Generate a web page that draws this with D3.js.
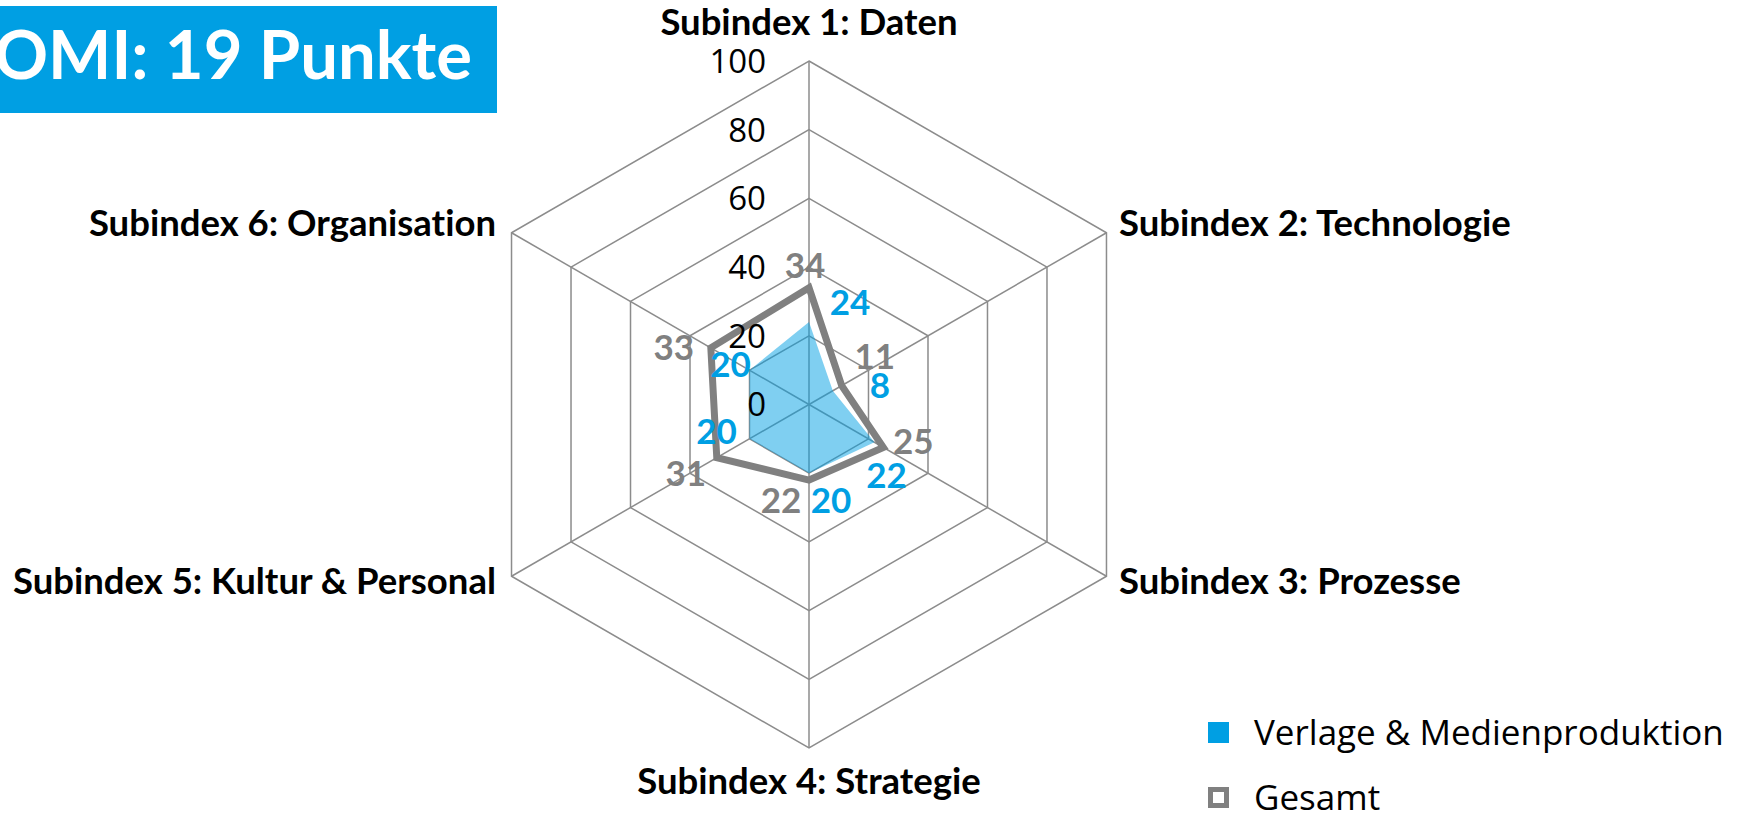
<!DOCTYPE html>
<html>
<head>
<meta charset="utf-8">
<script src="https://cdn.jsdelivr.net/npm/d3@7"></script>
<style>
    html, body { margin: 0; padding: 0; background: #fff; }
    svg { display: block; font-family: Lato, "Open Sans", sans-serif; font-variant-ligatures: none; }
</style>
</head>
<body>
<svg id="chart" width="1741" height="815"></svg>
<script>
var categories = [
    'Subindex 1: Daten',
    'Subindex 2: Technologie',
    'Subindex 3: Prozesse',
    'Subindex 4: Strategie',
    'Subindex 5: Kultur & Personal',
    'Subindex 6: Organisation'
];
var verlage = [24, 8, 22, 20, 20, 20];
var gesamt = [34, 11, 25, 22, 31, 33];
var ticks = [0, 20, 40, 60, 80, 100];
var seriesNames = ['Verlage & Medienproduktion', 'Gesamt'];
var title = 'KOMI: 19 Punkte';

// label nudges (px) relative to each vertex
var gesamtLabelOffset = [[-4, -22], [33, -29], [30, -6], [-28, 20], [-31, 16], [-37, 0]];
var verlageLabelOffset = [[41, -20], [47, -5], [12, 33], [22, 27], [-33, -7], [-19, -6]];

var blue = '#009fe3';
var grey = '#808080';

var svg = d3.select('#chart');
var cx = 809, cy = 404.5, radius = 343.5;

var r = d3.scaleLinear().domain([0, 100]).range([0, radius]);
var angle = d3.scalePoint().domain(d3.range(categories.length)).range([0, 2 * Math.PI * 5 / 6]);

function point(i, v) {
    var a = angle(i) - Math.PI / 2;
    return [cx + r(v) * Math.cos(a), cy + r(v) * Math.sin(a)];
}

var line = d3.line();

// title box
svg.append('rect')
    .attr('x', 0).attr('y', 6)
    .attr('width', 497).attr('height', 107)
    .attr('fill', blue);
svg.append('text')
    .attr('x', 472).attr('y', 79)
    .attr('text-anchor', 'end')
    .attr('font-size', 67)
    .attr('font-weight', 700)
    .attr('fill', '#fff')
    .text(title);

// grid
var grid = svg.append('g').attr('class', 'grid');
grid.selectAll('path.ring')
    .data(ticks.slice(1))
    .enter().append('path')
    .attr('class', 'ring')
    .attr('d', function(t) {
        return line(categories.map(function(c, i) { return point(i, t); })) + 'Z';
    })
    .attr('fill', 'none')
    .attr('stroke', '#8c8c8c')
    .attr('stroke-width', 1.5);
grid.selectAll('line.spoke')
    .data(categories)
    .enter().append('line')
    .attr('class', 'spoke')
    .attr('x1', cx).attr('y1', cy)
    .attr('x2', function(d, i) { return point(i, 100)[0]; })
    .attr('y2', function(d, i) { return point(i, 100)[1]; })
    .attr('stroke', '#8c8c8c')
    .attr('stroke-width', 1.5);

// series
svg.append('path')
    .attr('d', line(verlage.map(function(v, i) { return point(i, v); })) + 'Z')
    .attr('fill', blue)
    .attr('fill-opacity', 0.5)
    .attr('stroke', 'none');
svg.append('path')
    .attr('d', line(gesamt.map(function(v, i) { return point(i, v); })) + 'Z')
    .attr('fill', 'none')
    .attr('stroke', grey)
    .attr('stroke-width', 7)
    .attr('stroke-linejoin', 'miter');

// tick labels
svg.selectAll('text.tick')
    .data(ticks)
    .enter().append('text')
    .attr('class', 'tick')
    .attr('x', cx - 43)
    .attr('y', function(t) { return cy - r(t); })
    .attr('dy', '0.36em')
    .attr('text-anchor', 'end')
    .attr('font-family', '"Open Sans", sans-serif')
    .attr('font-size', 33)
    .attr('fill', '#000')
    .text(function(t) { return t; });

// data labels
function dataLabels(values, offsets, color) {
    svg.append('g').selectAll('text')
        .data(values)
        .enter().append('text')
        .attr('x', function(v, i) { return point(i, v)[0] + offsets[i][0]; })
        .attr('y', function(v, i) { return point(i, v)[1] + offsets[i][1]; })
        .attr('dy', '0.36em')
        .attr('text-anchor', 'middle')
        .attr('font-size', 35)
        .attr('font-weight', 700)
        .attr('fill', color)
        .text(function(v) { return v; });
}
dataLabels(gesamt, gesamtLabelOffset, grey);
dataLabels(verlage, verlageLabelOffset, blue);

// category labels
var catPos = [
    { x: cx, y: 22, anchor: 'middle' },
    { x: 1119, y: 223, anchor: 'start' },
    { x: 1119, y: 581, anchor: 'start' },
    { x: cx, y: 781, anchor: 'middle' },
    { x: 496, y: 581, anchor: 'end' },
    { x: 496, y: 223, anchor: 'end' }
];
svg.selectAll('text.cat')
    .data(categories)
    .enter().append('text')
    .attr('class', 'cat')
    .attr('x', function(d, i) { return catPos[i].x; })
    .attr('y', function(d, i) { return catPos[i].y; })
    .attr('dy', '0.36em')
    .attr('text-anchor', function(d, i) { return catPos[i].anchor; })
    .attr('font-size', 36.5)
    .attr('font-weight', 700)
    .attr('fill', '#000')
    .text(function(d) { return d; });

// legend
var legend = svg.append('g').attr('transform', 'translate(1208,722)');
legend.append('rect')
    .attr('x', 0).attr('y', 0).attr('width', 21).attr('height', 21)
    .attr('fill', blue);
legend.append('rect')
    .attr('x', 2.5).attr('y', 67.5).attr('width', 16).attr('height', 16)
    .attr('fill', '#fff')
    .attr('stroke', grey)
    .attr('stroke-width', 5);
legend.selectAll('text')
    .data(seriesNames)
    .enter().append('text')
    .attr('x', 46)
    .attr('y', function(d, i) { return 23 + i * 65; })
    .attr('font-family', '"Open Sans", sans-serif')
    .attr('font-size', 35)
    .attr('fill', '#000')
    .text(function(d) { return d; });
</script>
</body>
</html>
